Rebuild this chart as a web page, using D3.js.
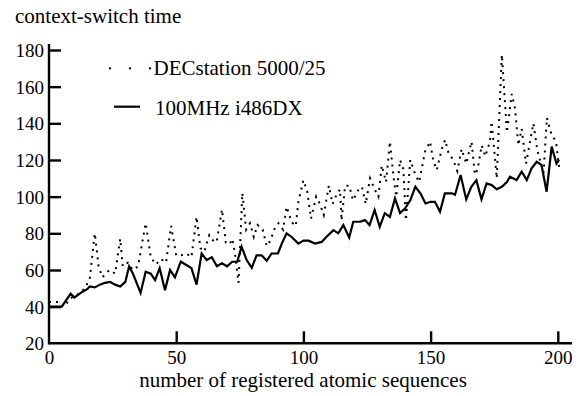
<!DOCTYPE html>
<html>
<head>
<meta charset="utf-8">
<script src="https://cdn.jsdelivr.net/npm/d3@7"></script>
<style>
  body { margin: 0; background: #fff; }
  text { font-family: "Liberation Serif", "Times New Roman", serif; fill: #000; }
</style>
</head>
<body>
<svg id="chart" width="579" height="396"></svg>
<script>
// DECstation 5000/25 (dotted), [sequences, time]
const decstation = [
  [0, 42.5], [4, 42.5], [6, 40], [8, 44], [10, 46], [12, 47], [14, 50], [16, 55], [18, 80],
  [19.5, 62], [21, 56], [23, 59], [24, 60], [26, 58], [28, 77], [29, 62], [31, 64], [33, 60],
  [35, 62], [38, 85.5], [40, 67], [42, 63], [44, 66], [46, 64], [48, 84], [50, 68], [52, 68],
  [54, 69], [56, 67], [58, 89], [59.5, 72], [61, 70], [63, 79], [65, 75], [66, 76], [68, 93],
  [69.5, 75], [71, 74], [72, 77], [73, 70], [74.5, 53], [76, 102], [77.5, 82], [79, 85.5],
  [80.5, 78], [82, 84.5], [84, 82], [85.6, 73], [87, 76], [88.8, 83], [90.2, 85.5], [92, 82],
  [93.4, 94.5], [95.4, 86], [97, 84], [98, 97], [100, 109], [101.5, 103], [103, 88], [105, 100],
  [106.5, 96], [108, 90], [110, 106], [111.5, 96], [113, 101], [114.4, 104], [115, 87],
  [116.4, 106], [118, 106], [119.5, 98], [121.6, 103.6], [123, 105.4], [124.5, 96], [126.2, 110],
  [128, 104], [129.5, 100], [130.8, 117], [132.5, 108], [134, 130], [135.5, 110], [136.5, 100],
  [138, 120], [139.3, 115], [140.3, 87], [142, 120], [144, 112], [145.5, 108], [147.8, 124.5],
  [149.8, 130], [151, 120], [152.4, 114.5], [154.4, 126], [155.7, 131], [157, 124], [158.9, 120],
  [160.5, 114], [162.2, 126], [164, 118], [166.1, 130], [167.4, 112], [168.5, 115], [170.1, 128],
  [171.5, 122], [173.3, 130], [174, 141], [176, 110], [178, 177.5], [180, 135], [181.9, 156],
  [183.2, 148], [184.5, 128], [185.8, 137], [187.5, 118], [190.4, 140], [192, 125], [194.4, 113],
  [195.7, 143], [197.5, 134], [199.3, 130], [200.5, 116]
];

// 100MHz i486DX (solid)
const i486 = [
  [0, 40], [5, 40], [6.5, 43], [8.5, 47], [10, 45], [11, 46], [13, 48], [15, 49.5], [16, 51],
  [18, 50.5], [20, 52], [22, 53], [24, 53.5], [26, 52], [28, 51], [30, 53.5], [31.5, 62], [33, 58],
  [36, 47.5], [38, 59], [40, 58], [41.7, 54.5], [43.5, 61], [45.6, 49], [47.6, 60], [49.5, 56],
  [51.8, 64.5], [54, 62.7], [56, 61], [58, 52], [60, 69], [62, 65.4], [64, 67], [66, 62],
  [68, 63.6], [70, 62], [72, 64.5], [74, 64.5], [75.7, 72.7], [77.7, 65.4], [79.7, 61.2],
  [81.6, 68], [83.6, 68], [85.6, 65], [87.5, 69], [90, 69], [91.5, 74.4], [93.4, 80], [95.4, 78],
  [98, 74.4], [100, 76], [102, 76], [104.6, 74.4], [107.2, 75.3], [109, 78], [111.8, 81.7],
  [113.7, 80], [115.7, 84.5], [118, 77.7], [119.6, 86.3], [122.3, 86.3], [124.2, 87.2], [126, 84.5],
  [128, 92.7], [130, 83.6], [132, 91], [134, 89], [136, 99], [138, 91], [140, 93.6], [142, 98],
  [144, 105.4], [146, 101.8], [148, 96.3], [150, 97.2], [151.7, 97.2], [153.7, 91.8], [155.6, 101.8],
  [158.3, 101.8], [159.6, 101], [161.8, 111.8], [164, 98.5], [166, 105.4], [168, 109], [170, 98.5],
  [172, 107.2], [174, 106.3], [176, 104], [178, 105.4], [180, 108], [181.2, 110.9], [183.8, 109],
  [185.8, 113.6], [187.8, 109], [189.7, 115.5], [191.7, 119], [193.6, 117.3], [195.6, 102.7],
  [197.6, 127.3], [199.5, 118], [200.5, 120]
];

const xTicks = [0, 50, 100, 150, 200];
const yTicks = [20, 40, 60, 80, 100, 120, 140, 160, 180];
const seriesNames = ["DECstation 5000/25", "100MHz i486DX"];

const svg = d3.select("#chart");
const x = d3.scaleLinear().domain([0, 200]).range([49, 557.8]);
const y = d3.scaleLinear().domain([20, 180]).range([343.3, 50]);

// axes (ticks point inward)
const xAxis = svg.append("g")
  .attr("transform", `translate(0,${y(20)})`)
  .call(d3.axisBottom(x).tickValues(xTicks).tickSizeInner(-12).tickSizeOuter(0).tickPadding(4));
const yAxis = svg.append("g")
  .attr("transform", `translate(${x(0)},0)`)
  .call(d3.axisLeft(y).tickValues(yTicks).tickSizeInner(-12).tickSizeOuter(0).tickPadding(5));

[xAxis, yAxis].forEach(a => {
  a.select(".domain").remove();
  a.selectAll(".tick line").attr("stroke", "#000").attr("stroke-width", 2.4);
  a.selectAll(".tick text").style("font-size", "19px").attr("fill", "#000");
});
xAxis.selectAll(".tick text").attr("dy", "0.9em");
yAxis.selectAll(".tick text").attr("dy", "0.35em");
// drop ticks at the corner
xAxis.selectAll(".tick").filter(d => d === 0).select("line").remove();
yAxis.selectAll(".tick").filter(d => d === 20).select("line").remove();

svg.append("line")
  .attr("x1", x(0)).attr("x2", 572).attr("y1", y(20)).attr("y2", y(20))
  .attr("stroke", "#000").attr("stroke-width", 2.4);
svg.append("line")
  .attr("x1", x(0)).attr("x2", x(0)).attr("y1", y(20) + 1.2).attr("y2", 44)
  .attr("stroke", "#000").attr("stroke-width", 2.4);

const line = d3.line().x(d => x(d[0])).y(d => y(d[1]));

svg.append("path")
  .datum(decstation)
  .attr("d", line)
  .attr("fill", "none")
  .attr("stroke", "#000")
  .attr("stroke-width", 2)
  .attr("stroke-dasharray", "2,5");

svg.append("path")
  .datum(i486)
  .attr("d", line)
  .attr("fill", "none")
  .attr("stroke", "#000")
  .attr("stroke-width", 2.2)
  .attr("stroke-linejoin", "miter");

// legend
svg.append("line")
  .attr("x1", 109).attr("x2", 152).attr("y1", 68.3).attr("y2", 68.3)
  .attr("stroke", "#000").attr("stroke-width", 2).attr("stroke-dasharray", "2,18");
svg.append("text").attr("x", 153.5).attr("y", 75).style("font-size", "21px").text(seriesNames[0]);
svg.append("line")
  .attr("x1", 114).attr("x2", 140).attr("y1", 106.7).attr("y2", 106.7)
  .attr("stroke", "#000").attr("stroke-width", 2.2);
svg.append("text").attr("x", 155).attr("y", 115).style("font-size", "21px").text(seriesNames[1]);

// titles
svg.append("text").attr("x", 15).attr("y", 23).style("font-size", "21px").text("context-switch time");
svg.append("text").attr("x", 303).attr("y", 387).attr("text-anchor", "middle")
  .style("font-size", "21px").text("number of registered atomic sequences");
</script>
</body>
</html>
